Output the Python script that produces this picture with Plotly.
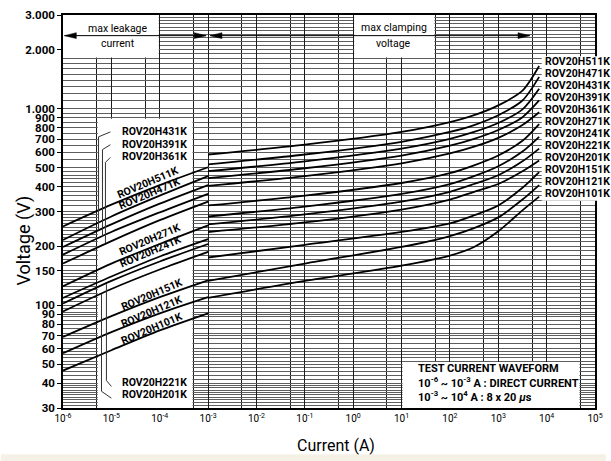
import math
import plotly.graph_objects as go

# ------------------------------------------------------------------ data
# current points (A) of the two measurement regions
LEAK_CURRENT_A = [1e-6, 1e-5, 1e-4, 1e-3]                          # DC region
CLAMP_CURRENT_A = [1e-3, 1e-1, 1e1, 1e2, 316, 1e3, 3162, 7000]      # 8x20 us region

# voltages (V), leakage region
V_LEAK_511K = [252, 325, 409, 504]
V_LEAK_471K = [215, 283, 361, 454]
V_LEAK_431K = [198, 258, 329, 409]
V_LEAK_391K = [181, 236, 297, 369]
V_LEAK_361K = [163, 212, 271, 337]
V_LEAK_271K = [125, 163, 205, 255]
V_LEAK_241K = [109, 140, 177, 217]
V_LEAK_221K = [102, 133, 167, 205]
V_LEAK_201K = [93, 121, 152, 187]
V_LEAK_151K = [69, 88, 110, 134]
V_LEAK_121K = [57, 73, 91, 110]
V_LEAK_101K = [46.5, 59, 74.5, 91]

# voltages (V), clamping region
V_CLAMP_511K = [585, 656, 762, 855, 927, 1040, 1236, 1649]
V_CLAMP_471K = [521, 585, 679, 762, 826, 927, 1102, 1453]
V_CLAMP_431K = [481, 540, 627, 703, 762, 846, 993, 1265]
V_CLAMP_391K = [444, 498, 578, 649, 703, 780, 906, 1102]
V_CLAMP_361K = [405, 454, 527, 592, 641, 711, 826, 960]
V_CLAMP_271K = [322, 361, 419, 470, 515, 578, 687, 836]
V_CLAMP_241K = [283, 318, 369, 414, 454, 510, 606, 720]
V_CLAMP_221K = [258, 290, 337, 378, 414, 459, 540, 627]
V_CLAMP_201K = [236, 264, 307, 345, 378, 414, 481, 546]
V_CLAMP_151K = [175, 203, 236, 261, 287, 322, 396, 476]
V_CLAMP_121K = [133, 163, 198, 225, 247, 280, 345, 409]
V_CLAMP_101K = [109, 133, 159, 179, 198, 238, 304, 357]

MODELS = ["ROV20H511K", "ROV20H471K", "ROV20H431K", "ROV20H391K", "ROV20H361K",
          "ROV20H271K", "ROV20H241K", "ROV20H221K", "ROV20H201K",
          "ROV20H151K", "ROV20H121K", "ROV20H101K"]

X_TICK_VALUES = [1e-6, 1e-5, 1e-4, 1e-3, 1e-2, 1e-1, 1e0, 1e1, 1e2, 1e3, 1e4, 1e5]
X_TICK_LABELS = ["10<sup>-6</sup>", "10<sup>-5</sup>", "10<sup>-4</sup>", "10<sup>-3</sup>",
                 "10<sup>-2</sup>", "10<sup>-1</sup>", "10<sup>0</sup>", "10<sup>1</sup>",
                 "10<sup>2</sup>", "10<sup>3</sup>", "10<sup>4</sup>", "10<sup>5</sup>"]
Y_TICK_VALUES = [30, 40, 50, 60, 70, 80, 90, 100, 150, 200, 300, 400, 500, 600,
                 700, 800, 900, 1000, 2000, 3000]
Y_TICK_LABELS = ["30", "40", "50", "60", "70", "80", "90", "100", "150", "200", "300",
                 "400", "500", "600", "700", "800", "900", "1.000", "2.000", "3.000"]

CURVES = [
    (V_LEAK_511K, V_CLAMP_511K), (V_LEAK_471K, V_CLAMP_471K), (V_LEAK_431K, V_CLAMP_431K),
    (V_LEAK_391K, V_CLAMP_391K), (V_LEAK_361K, V_CLAMP_361K), (V_LEAK_271K, V_CLAMP_271K),
    (V_LEAK_241K, V_CLAMP_241K), (V_LEAK_221K, V_CLAMP_221K), (V_LEAK_201K, V_CLAMP_201K),
    (V_LEAK_151K, V_CLAMP_151K), (V_LEAK_121K, V_CLAMP_121K), (V_LEAK_101K, V_CLAMP_101K),
]

# ------------------------------------------------------------------ layout helpers
W, H = 611, 461
ML, MR, MT, MB = 63, 9, 8, 53
PW, PH = W - ML - MR, H - MT - MB
DX, DY = 1.0 / PW, 1.0 / PH
LOGX = (-6.0, 5.0)
LOGY = (math.log10(30), math.log10(3000))
PX_X = 10 ** ((LOGX[1] - LOGX[0]) / PW)   # data factor of one pixel along x
PX_Y = 10 ** ((LOGY[1] - LOGY[0]) / PH)   # data factor of one pixel along y

def qx(p):  # pixel -> paper x (decorations)
    return (p - ML) / PW

def qy(p):  # pixel -> paper y (decorations)
    return (MT + PH - p) / PH

FONT = "Roboto, Liberation Sans, sans-serif"
VGRID = "#1c1c1c"
HGRID = "#5e5e5e"

# minor horizontal grid values (graph paper)
Y_MINOR = []
for lo, hi, step in [(30, 40, 1), (40, 60, 2), (60, 100, 4), (100, 150, 5), (150, 200, 10),
                     (200, 300, 10), (300, 500, 20), (500, 1000, 50), (1000, 3000, 100)]:
    v = lo
    while v < hi - 1e-9:
        Y_MINOR.append(v)
        v += step
Y_MINOR.append(3000)
X_MINOR = [5 * 10.0 ** n for n in range(-6, 5)]

# ------------------------------------------------------------------ figure
fig = go.Figure()
line_style = dict(color="black", width=1.8, shape="spline", smoothing=0.8)
for leak, clamp in CURVES:
    fig.add_trace(go.Scatter(x=LEAK_CURRENT_A, y=leak, mode="lines", line=line_style,
                             hoverinfo="skip", showlegend=False))
    fig.add_trace(go.Scatter(x=CLAMP_CURRENT_A, y=clamp, mode="lines", line=line_style,
                             hoverinfo="skip", showlegend=False))

shapes = []

def white_data(x0, x1, y0, y1):
    # white panel in data space, above the grid and below the curves
    shapes.append(dict(type="rect", xref="x", yref="y", x0=x0, x1=x1, y0=y0, y1=y1,
                       fillcolor="white", line=dict(width=0), layer="between"))

white_data(1e-6, 1e-4 / PX_X, 1800 * PX_Y, 3000)            # leakage header
white_data(5e-6 * PX_X, 5e-4 / PX_X, 30, 900 / PX_Y)        # left label area
white_data(1 * PX_X, 50 / PX_X, 1800 * PX_Y, 3000)          # clamping header
white_data(10 * PX_X, 5e4 / PX_X, 30, 52 / PX_Y)            # test waveform box

# right label column (covers border and curve tails)
shapes.append(dict(type="rect", xref="paper", yref="paper", x0=qx(548), x1=qx(613),
                   y0=qy(197), y1=qy(50), fillcolor="white", line=dict(width=0), layer="above"))

# arrows
AY = qy(29)
for a, b in [(64.5, 208), (212, 536)]:
    shapes.append(dict(type="line", xref="paper", yref="paper", x0=qx(a), x1=qx(b), y0=AY, y1=AY,
                       line=dict(color="black", width=1), layer="above"))
    for tip, back in [(a, a + 12), (b, b - 12)]:
        path = "M{:.5f},{:.5f} L{:.5f},{:.5f} L{:.5f},{:.5f} Z".format(
            qx(tip), AY, qx(back), AY + 3 * DY, qx(back), AY - 3 * DY)
        shapes.append(dict(type="path", xref="paper", yref="paper", path=path,
                           fillcolor="black", line=dict(color="black", width=0.5), layer="above"))

# leader lines for the stacked labels
LEADERS = [
    [(111, 127), (99, 132), (99, 227)],
    [(111, 140), (103, 145), (103, 234)],
    [(111, 153), (106, 158), (106, 240)],
    [(107, 282), (107, 380), (112, 386)],
    [(102, 292), (102, 391), (112, 398)],
]
for pts in LEADERS:
    path = "M" + " L".join("{:.5f},{:.5f}".format(qx(x), qy(y)) for x, y in pts)
    shapes.append(dict(type="path", xref="paper", yref="paper", path=path,
                       line=dict(color="#333333", width=1), layer="above"))

# cream strip at page bottom
shapes.append(dict(type="rect", xref="paper", yref="paper", x0=qx(0), x1=qx(W + 2),
                   y0=qy(H + 2), y1=qy(455), fillcolor="#f5f1e6", line=dict(width=0), layer="below"))

ann = []

def text(s, x, y, size=10.5, weight="bold", anchor="center", angle=0):
    ann.append(dict(text=s, x=qx(x), y=qy(y), xref="paper", yref="paper", showarrow=False,
                    xanchor=anchor, yanchor="middle", textangle=angle,
                    font=dict(family=FONT, size=size, color="black", weight=weight)))

text("max leakage", 118, 22, 10.5, "normal")
text("current", 119, 37, 10.5, "normal")
text("max clamping", 398, 21, 10.5, "normal")
text("voltage", 398, 37, 10.5, "normal")

# stacked horizontal labels (left)
for name, y in [("ROV20H431K", 127), ("ROV20H391K", 139.5), ("ROV20H361K", 152.5),
                ("ROV20H221K", 382), ("ROV20H201K", 394.5)]:
    text(name, 121, y, anchor="left")
# labels along curves
for name, x, y in [("ROV20H511K", 149, 178), ("ROV20H471K", 151, 190),
                   ("ROV20H271K", 151, 236), ("ROV20H241K", 152, 249),
                   ("ROV20H151K", 153, 292), ("ROV20H121K", 153, 310),
                   ("ROV20H101K", 153, 327)]:
    text(name, x, y, angle=-23)
# right label column
for k, name in enumerate(MODELS):
    text(name, 549, 55 + 12.27 * k, anchor="left")

# test waveform
text("TEST CURRENT WAVEFORM", 421, 368, 11, anchor="left")
text("10<sup>-6</sup> ~ 10<sup>-3</sup> A : DIRECT CURRENT", 421, 382, 11, anchor="left")
text("10<sup>-3</sup> ~ 10<sup>4</sup> A : 8 x 20 <i>μ</i>s", 421, 396, 11, anchor="left")

# axis titles
text("Current (A)", 340, 446, 16, "normal")
text("Voltage (V)", 23, 238, 18, "normal", angle=-90)

fig.update_xaxes(type="log", range=list(LOGX), tickmode="array", tickvals=X_TICK_VALUES,
                 ticktext=X_TICK_LABELS, ticks="", showgrid=True, gridcolor=VGRID, gridwidth=1,
                 minor=dict(tickmode="array", tickvals=X_MINOR, showgrid=True,
                            gridcolor=VGRID, gridwidth=1, ticks=""),
                 showline=True, linecolor="black", linewidth=1.6, mirror=True, zeroline=False,
                 tickfont=dict(family=FONT, size=10, color="black"))
fig.update_yaxes(type="log", range=list(LOGY), tickmode="array", tickvals=Y_TICK_VALUES,
                 ticktext=Y_TICK_LABELS, ticks="outside", ticklen=4, tickcolor="black",
                 tickwidth=1, showgrid=True, gridcolor=HGRID, gridwidth=0.8,
                 minor=dict(tickmode="array", tickvals=Y_MINOR, showgrid=True,
                            gridcolor=HGRID, gridwidth=0.8, ticks=""),
                 showline=True, linecolor="black", linewidth=1.6, mirror=True, zeroline=False,
                 tickfont=dict(family=FONT, size=11.5, color="black", weight="bold"))

fig.update_layout(width=W, height=H, margin=dict(l=ML, r=MR, t=MT, b=MB),
                  paper_bgcolor="white", plot_bgcolor="white", showlegend=False,
                  shapes=shapes, annotations=ann)

fig.write_html("out.html", config={"displayModeBar": False},
               post_script="document.body.style.margin='0';document.body.style.overflow='hidden';")
